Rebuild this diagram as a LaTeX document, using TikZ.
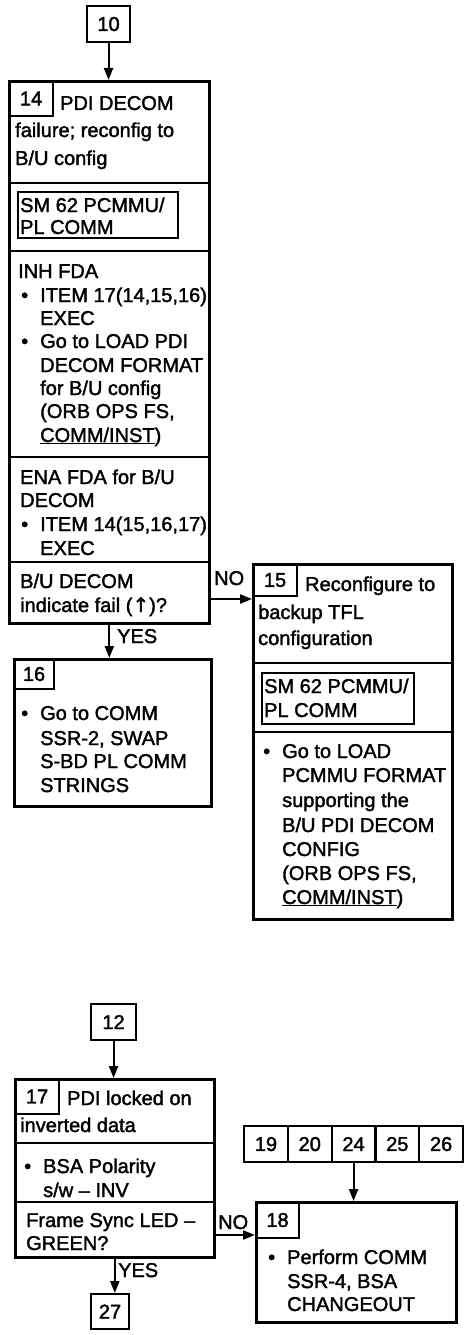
\documentclass[tikz,border=0pt]{standalone}
\usepackage{fontspec}
\setmainfont{Liberation Sans}[UprightFeatures={FakeBold=1.8}]
\newfontfamily\arrowfont{DejaVu Sans}[FakeBold=1.8]
\usetikzlibrary{arrows.meta}
\tikzstyle{frame}=[draw,line width=2.6pt,anchor=north west,inner sep=0pt]
\tikzstyle{tab}=[draw,line width=2.1pt,anchor=north west,inner sep=0pt,font=\fontsize{20}{24}\selectfont]
\tikzstyle{smbox}=[draw,line width=1.9pt,anchor=north west,inner sep=0pt]
\tikzstyle{line}=[anchor=base west,inner sep=0pt,font=\fontsize{20}{24}\selectfont]
\tikzstyle{edge}=[draw,line width=2.1pt,-{Triangle[length=12pt,width=9pt]}]
\tikzstyle{divider}=[draw,line width=2.6pt]
\newcommand{\bul}{\llap{\textbullet\hspace{12pt}}}

\begin{document}
\begin{tikzpicture}[x=1pt,y=-1pt]
\useasboundingbox (0,0) rectangle (463,1335);

% Frames
\foreach \pos/\w/\h/\name in {{(8,80)/200/542/b14}, {(252,563)/199/355/b15}, {(13,658)/197/147/b16}, {(14,1078)/199/178/b17}, {(255,1201)/200/120/b18}}
    \node[frame,minimum width=\w pt,minimum height=\h pt] (\name) at \pos {};

% Number boxes
\foreach \pos/\w/\h/\name/\num in {{(86,5)/43/36/b10/10}, {(90,1003)/45/36/b12/12}, {(90,1293)/38/35/b27/27}, {(8,80)/44/35/n14/14}, {(252,563)/44/32/n15/15}, {(13,658)/40/30/n16/16}, {(14,1078)/44/35/n17/17}, {(255,1201)/43/36/n18/18}}
    \node[tab,minimum width=\w pt,minimum height=\h pt] (\name) at \pos {\num};

\foreach \num [count=\i from 0] in {19,20,24,25,26}
    \node[tab,minimum width=43.8pt,minimum height=36pt] (r\num) at (243+43.8*\i,1125) {\num};

% Dividers
\foreach \y/\name in {183/b14, 251/b14, 457/b14, 562/b14, 663/b15, 732/b15, 1143/b17, 1202/b17}
    \draw[divider] (\name.west |- 0,\y) -- (\name.east |- 0,\y);

\node[smbox,minimum width=160pt,minimum height=46pt] (sm14) at (17,191) {};
\node[smbox,minimum width=152pt,minimum height=51pt] (sm15) at (261,672) {};

% Box 14
\foreach \x/\y/\t [count=\i] in {60/110/{PDI DECOM}, 15/137/{failure; reconfig to}, 15/165/{B/U config},
    20/212/{SM 62 PCMMU/}, 20/234/{PL COMM}, 18/278/{INH FDA},
    40/302/{\bul ITEM 17(14,15,16)}, 40/325/EXEC, 40/348/{\bul Go to LOAD PDI}, 40/372/{DECOM FORMAT},
    40/395/{for B/U config}, 40/418/{(ORB OPS FS,}, 40/442/{\underline{COMM/INST})},
    20/484/{ENA FDA for B/U}, 20/507/DECOM, 40/531/{\bul ITEM 14(15,16,17)}, 40/555/EXEC,
    20/588/{B/U DECOM}, 20/612/{indicate fail ({\arrowfont ↑})?}}
    \node[line] (t14-\i) at (\x,\y) {\t};

% Box 15
\foreach \x/\y/\t [count=\i] in {305/591/{Reconfigure to}, 258/619/{backup TFL}, 258/645/configuration,
    264/693/{SM 62 PCMMU/}, 264/717/{PL COMM},
    282/758/{\bul Go to LOAD}, 282/782/{PCMMU FORMAT}, 282/807/{supporting the}, 282/832/{B/U PDI DECOM},
    282/856/CONFIG, 282/880/{(ORB OPS FS,}, 282/904/{\underline{COMM/INST})}}
    \node[line] (t15-\i) at (\x,\y) {\t};

% Box 16
\foreach \x/\y/\t [count=\i] in {40/720/{\bul Go to COMM}, 40/745/{SSR-2, SWAP}, 40/768/{S-BD PL COMM}, 40/792/STRINGS}
    \node[line] (t16-\i) at (\x,\y) {\t};

% Box 17
\foreach \x/\y/\t [count=\i] in {67/1105/{PDI locked on}, 20/1132/{inverted data},
    43/1173/{\bul BSA Polarity}, 43/1197/{s/w – INV}, 26/1227/{Frame Sync LED –}, 26/1250/{GREEN?}}
    \node[line] (t17-\i) at (\x,\y) {\t};

% Box 18
\foreach \x/\y/\t [count=\i] in {287/1264/{\bul Perform COMM}, 287/1288/{SSR-4, BSA}, 287/1311/CHANGEOUT}
    \node[line] (t18-\i) at (\x,\y) {\t};

% Label
\node[line] (no1) at (214,585) {NO};
\node[line] (yes1) at (117,643) {YES};
\node[line] (no2) at (218,1229) {NO};
\node[line] (yes2) at (118,1277) {YES};

% Arrows
\draw[edge] (b10.south) -- (b10.south |- b14.north);
\draw[edge] (b14.east |- 0,599) -- (b15.west |- 0,599);
\draw[edge] (b14.south) -- (b14.south |- b16.north);
\draw[edge] (b12.south) -- (b12.south |- b17.north);
\draw[edge] (b17.east |- 0,1235) -- (b18.west |- 0,1235);
\draw[edge] (b17.south) -- (b17.south |- b27.north);
\draw[edge] (r24.south) -- (r24.south |- b18.north);

\end{tikzpicture}
\end{document}
